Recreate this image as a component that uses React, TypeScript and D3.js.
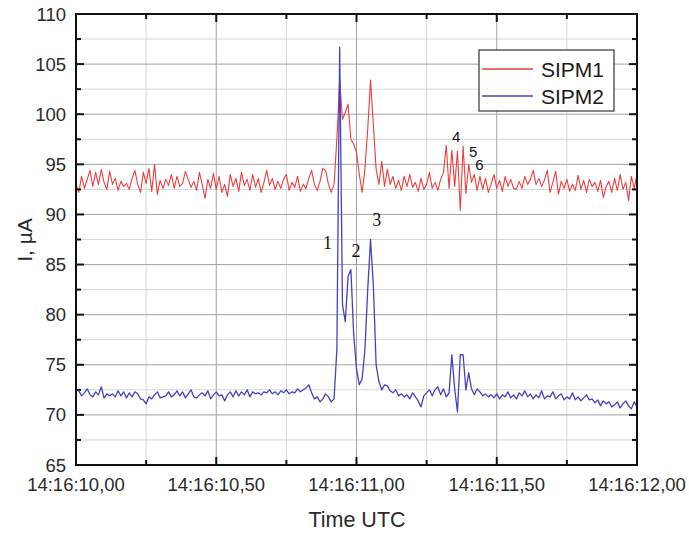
import React, { useEffect, useRef } from 'react';
import * as d3 from 'd3';

const width = 689;
const height = 533;
const plot = { left: 76, top: 14, right: 637, bottom: 465 };

// seconds after 14:16:00, sampled every 10 ms
const startSec = 10;
const stepSec = 0.01;

const xMajor = [10, 10.5, 11, 11.5, 12];
const xMinor = [10.25, 10.75, 11.25, 11.75];
const xLabels = ['14:16:10,00', '14:16:10,50', '14:16:11,00', '14:16:11,50', '14:16:12,00'];
const yMajor = [65, 70, 75, 80, 85, 90, 95, 100, 105, 110];
const yMinor = [67.5, 72.5, 77.5, 82.5, 87.5, 92.5, 97.5, 102.5, 107.5];

const sipm1 = [
  93.0, 92.2, 93.8, 92.6, 93.5, 94.4, 92.8, 94.2, 93.0, 94.5,
  93.2, 92.5, 94.3, 93.0, 93.6, 92.4, 93.3, 92.8, 93.1, 92.5,
  93.6, 94.4, 93.0, 92.2, 94.2, 93.1, 94.6, 92.3, 95.0, 92.0,
  93.4, 92.6, 93.5, 92.9, 94.0, 92.6, 93.8, 92.8, 93.1, 94.3,
  93.5, 92.7, 93.3, 92.4, 94.2, 93.0, 91.6, 93.5, 92.6, 94.1,
  92.5, 93.8, 92.2, 93.0, 91.8, 94.0, 92.8, 93.6, 92.3, 94.2,
  92.9, 93.5, 92.4, 94.0, 92.7, 93.6, 92.2, 93.2, 94.4, 92.9,
  93.6, 92.5, 93.3, 92.6, 93.5, 94.0, 92.4, 93.2, 92.7, 93.8,
  92.3, 93.0, 92.6, 93.6, 94.4, 93.0, 92.4, 93.3, 94.6, 94.4,
  93.0, 92.2, 93.0, 97.5, 103.4, 99.5, 100.2, 101.0, 97.5, 97.0,
  96.2, 94.0, 92.2, 94.5, 98.5, 103.4, 99.0, 94.5, 93.0, 95.3,
  92.8, 94.5, 93.0, 93.8, 92.6, 93.4, 92.4, 93.8, 92.8, 94.0,
  92.7, 93.2, 92.3, 93.6, 92.5, 93.0, 94.2, 92.6, 93.2, 92.4,
  93.5, 94.2, 96.9, 92.6, 96.4, 92.8, 96.3, 90.4, 96.8, 92.1,
  95.0, 93.2, 94.0, 92.4, 93.8, 92.5, 93.6, 92.2, 93.0, 94.0,
  92.6, 93.4, 92.3, 93.8, 92.8, 93.5, 92.6, 92.5, 93.3, 92.6,
  93.8, 93.0, 93.5, 94.4, 93.0, 93.6, 92.8, 93.4, 94.4, 92.2,
  93.2, 94.3, 92.0, 93.3, 92.6, 93.5, 92.3, 93.0, 92.4, 93.9,
  92.5, 93.4, 92.2, 93.5, 92.8, 93.2, 92.3, 93.4, 91.7, 92.8,
  93.3, 92.2, 93.6, 92.4, 94.0, 92.5, 93.2, 91.4, 93.8, 92.6,
  94.0,
];

const sipm2 = [
  72.5, 72.4, 71.9, 72.2, 72.6, 72.0, 71.8, 72.3, 72.0, 72.8,
  71.7, 72.1, 71.9, 72.1, 71.8, 72.4, 71.9, 72.3, 71.7, 72.2,
  71.8, 72.3, 72.1, 71.6, 71.5, 71.1, 71.8, 71.6, 72.0, 72.3,
  71.7, 71.8, 71.9, 72.3, 71.8, 72.0, 72.4, 71.9, 72.3, 71.7,
  72.1, 72.5, 71.8, 71.7, 72.0, 72.2, 71.9, 72.4, 71.6, 72.0,
  72.3, 71.9, 72.0, 71.4, 72.0, 72.3, 71.8, 72.4, 71.9, 72.3,
  72.0, 72.5, 71.8, 72.3, 72.1, 72.2, 72.0, 72.3, 72.2, 72.5,
  72.1, 72.3, 72.0, 72.4, 72.2, 72.5, 72.1, 72.3, 72.2, 72.6,
  72.3, 72.5, 72.7, 73.0, 72.2, 71.6, 71.8, 71.3, 71.6, 72.1,
  71.8, 71.3, 71.6, 76.5, 106.7, 81.0, 79.3, 83.8, 84.5, 78.0,
  74.6, 73.0, 73.6, 76.5, 82.5, 87.5, 83.0, 75.0, 73.3, 72.5,
  73.0, 72.9, 72.4, 72.2, 72.5, 71.9, 72.1, 71.8, 72.0, 71.6,
  72.2, 71.8, 71.4, 70.8, 71.9, 72.2, 72.5, 71.9, 72.5, 72.8,
  72.0, 72.6, 71.8, 72.2, 76.0, 72.6, 70.3, 76.0, 76.0, 72.5,
  74.2, 72.6, 72.0, 72.6, 72.3, 71.9, 72.1, 71.8, 72.0, 71.7,
  72.1, 71.6, 72.0, 71.8, 72.3, 71.7, 72.0, 71.6, 72.2, 71.9,
  72.4, 71.8, 72.1, 71.6, 72.0, 71.7, 72.4, 71.6, 71.9, 71.8,
  72.3, 71.6, 71.9, 72.1, 71.5, 71.8, 71.6, 72.2, 71.5, 71.8,
  71.4, 71.7, 72.0, 71.5, 71.6, 71.2, 71.5, 70.9, 71.4, 71.1,
  71.3, 70.8, 71.0, 71.3, 70.7, 71.1, 71.4, 70.9, 70.6, 71.3,
  70.8,
];

const seriesNames = ['SIPM1', 'SIPM2'];
const seriesColors = ['#ef3d3d', '#4343c0'];

// numbered event marks, in data units (time, µA)
const markText = ['1', '2', '3', '4', '5', '6'];
const markTime = [10.897, 10.998, 11.072, 11.355, 11.416, 11.438];
const markValue = [87.15, 86.4, 89.4, 97.75, 96.25, 95.0];

const sans = '"Liberation Sans", Arial, sans-serif';

const App = () => {
  const ref = useRef<SVGSVGElement | null>(null);

  useEffect(() => {
    const svg = d3.select(ref.current);
    svg.selectAll('*').remove();

    const x = d3.scaleLinear().domain([10, 12]).range([plot.left, plot.right]);
    const y = d3.scaleLinear().domain([65, 110]).range([plot.bottom, plot.top]);

    svg.append('rect').attr('width', width).attr('height', height).attr('fill', '#fff');

    // grid
    const grid = svg.append('g');
    grid.selectAll('.gx').data(xMinor).enter().append('line')
      .attr('x1', d => x(d)).attr('x2', d => x(d))
      .attr('y1', plot.top).attr('y2', plot.bottom)
      .attr('stroke', '#d6d6d6').attr('stroke-width', 1);
    grid.selectAll('.gy').data(yMinor).enter().append('line')
      .attr('x1', plot.left).attr('x2', plot.right)
      .attr('y1', d => y(d)).attr('y2', d => y(d))
      .attr('stroke', '#d6d6d6').attr('stroke-width', 1);
    grid.selectAll('.gX').data(xMajor.slice(1, -1)).enter().append('line')
      .attr('x1', d => x(d)).attr('x2', d => x(d))
      .attr('y1', plot.top).attr('y2', plot.bottom)
      .attr('stroke', '#a3a3a3').attr('stroke-width', 1);
    grid.selectAll('.gY').data(yMajor.slice(1, -1)).enter().append('line')
      .attr('x1', plot.left).attr('x2', plot.right)
      .attr('y1', d => y(d)).attr('y2', d => y(d))
      .attr('stroke', '#a3a3a3').attr('stroke-width', 1);

    // series
    const line = d3.line<number>()
      .x((d, i) => x(startSec + i * stepSec))
      .y(d => y(d));
    [sipm1, sipm2].forEach((s, k) => {
      svg.append('path').datum(s)
        .attr('d', line)
        .attr('fill', 'none')
        .attr('stroke', seriesColors[k])
        .attr('stroke-width', k === 0 ? 1.1 : 1.3)
        .attr('stroke-linejoin', 'round');
    });

    // frame + inward ticks
    const ax = svg.append('g').attr('stroke', '#111').attr('stroke-width', 2);
    ax.append('rect')
      .attr('x', plot.left).attr('y', plot.top)
      .attr('width', plot.right - plot.left).attr('height', plot.bottom - plot.top)
      .attr('fill', 'none');
    const tick = (vals: number[], len: number) => {
      vals.forEach(v => {
        ax.append('line').attr('x1', x(v)).attr('x2', x(v)).attr('y1', plot.bottom).attr('y2', plot.bottom - len);
        ax.append('line').attr('x1', x(v)).attr('x2', x(v)).attr('y1', plot.top).attr('y2', plot.top + len);
      });
    };
    const tickY = (vals: number[], len: number) => {
      vals.forEach(v => {
        ax.append('line').attr('x1', plot.left).attr('x2', plot.left + len).attr('y1', y(v)).attr('y2', y(v));
        ax.append('line').attr('x1', plot.right).attr('x2', plot.right - len).attr('y1', y(v)).attr('y2', y(v));
      });
    };
    tick(xMajor, 8);
    tick(xMinor, 5);
    tickY(yMajor, 8);
    tickY(yMinor, 5);

    // tick labels
    svg.selectAll('.yl').data(yMajor).enter().append('text')
      .attr('x', plot.left - 10).attr('y', d => y(d))
      .attr('text-anchor', 'end').attr('dominant-baseline', 'central')
      .attr('font-family', sans).attr('font-size', 18.5).attr('fill', '#2a2a2a')
      .text(d => String(d));
    svg.selectAll('.xl').data(xMajor).enter().append('text')
      .attr('x', d => x(d)).attr('y', 491)
      .attr('text-anchor', 'middle')
      .attr('font-family', sans).attr('font-size', 18.5).attr('fill', '#2a2a2a')
      .text((d, i) => xLabels[i]);

    // axis titles
    svg.append('text')
      .attr('x', 357).attr('y', 527)
      .attr('text-anchor', 'middle')
      .attr('font-family', sans).attr('font-size', 21.5).attr('fill', '#2a2a2a')
      .text('Time UTC');
    svg.append('text')
      .attr('transform', `translate(32, 240) rotate(-90)`)
      .attr('text-anchor', 'middle')
      .attr('font-family', sans).attr('font-size', 21).attr('fill', '#2a2a2a')
      .text('I, µA');

    // event numbers
    markText.forEach((t, i) => {
      svg.append('text')
        .attr('x', x(markTime[i])).attr('y', y(markValue[i]))
        .attr('text-anchor', 'middle').attr('dominant-baseline', 'central')
        .attr('font-family', i < 3 ? '"Liberation Serif", "Times New Roman", serif' : sans)
        .attr('font-size', i < 3 ? 18 : 15)
        .attr('fill', '#111')
        .text(t);
    });

    // legend
    const lg = svg.append('g').attr('transform', 'translate(479, 50)');
    lg.append('rect').attr('width', 135).attr('height', 61)
      .attr('fill', '#fff').attr('stroke', '#333').attr('stroke-width', 1.2);
    seriesNames.forEach((n, i) => {
      const cy = 19 + i * 27;
      lg.append('line').attr('x1', 3).attr('x2', 54).attr('y1', cy).attr('y2', cy)
        .attr('stroke', seriesColors[i]).attr('stroke-width', 1.3);
      lg.append('text').attr('x', 62).attr('y', cy)
        .attr('dominant-baseline', 'central')
        .attr('font-family', sans).attr('font-size', 21).attr('fill', '#1a1a1a')
        .text(n);
    });
  }, []);

  return (
    <svg ref={ref} width={width} height={height}
      style={{ position: 'absolute', left: 0, top: 0, display: 'block' }} />
  );
};

export default App;
